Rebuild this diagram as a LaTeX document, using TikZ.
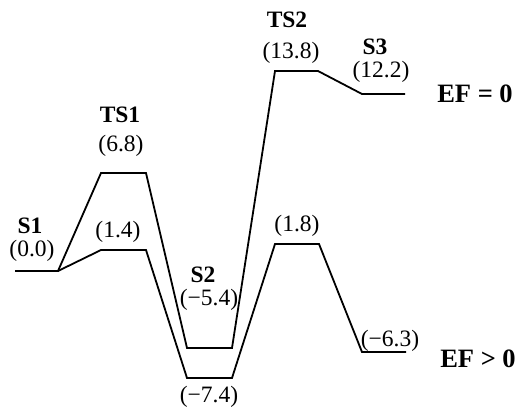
\documentclass[tikz,border=0pt]{standalone}
\usepackage{fontspec}
\setmainfont{Liberation Serif}
\begin{document}
\begin{tikzpicture}[x=1pt,y=-1pt,
  lvl/.style={line width=1.8pt,line join=miter},
  num/.style={inner sep=0pt,font=\fontsize{23.5}{23.5}\selectfont},
  nm/.style={inner sep=0pt,font=\fontsize{23.5}{23.5}\selectfont\bfseries},
  ef/.style={inner sep=0pt,font=\fontsize{26.5}{26.5}\selectfont\bfseries}]
\useasboundingbox (0,0) rectangle (525,407);
% upper profile (EF = 0)
\coordinate (s1l) at (15,271);
\coordinate (s1r) at (58,271);
\coordinate (t1ul) at (101,173);
\coordinate (t1ur) at (146,173);
\coordinate (s2ul) at (187,348);
\coordinate (s2ur) at (232,348);
\coordinate (t2ul) at (275,71);
\coordinate (t2ur) at (318,71);
\coordinate (s3ul) at (362,94);
\coordinate (s3ur) at (405,94);
% lower profile (EF > 0)
\coordinate (t1ll) at (101,250);
\coordinate (t1lr) at (146,250);
\coordinate (s2ll) at (187,378);
\coordinate (s2lr) at (232,378);
\coordinate (t2ll) at (275,244);
\coordinate (t2lr) at (319,244);
\coordinate (s3ll) at (362,352);
\coordinate (s3lr) at (406,352);
\draw[lvl] (s1l) -- (s1r) -- (t1ul) -- (t1ur) -- (s2ul) -- (s2ur) -- (t2ul) -- (t2ur) -- (s3ul) -- (s3ur);
\draw[lvl] (s1r) -- (t1ll) -- (t1lr) -- (s2ll) -- (s2lr) -- (t2ll) -- (t2lr) -- (s3ll) -- (s3lr);
% labels
\node[nm] (ls1) at (30,226) {S1};
\node[num] (vs1) at (32,251) {(0.0)};
\node[nm] (lt1) at (120,115) {TS1};
\node[num] (vt1u) at (121,146) {(6.8)};
\node[num] (vt1l) at (118,232) {(1.4)};
\node[nm] (ls2) at (203,275) {S2};
\node[num] (vs2u) at (209,300) {(−5.4)};
\node[num] (vs2l) at (209,397) {(−7.4)};
\node[nm] (lt2) at (287,20) {TS2};
\node[num] (vt2u) at (291,53) {(13.8)};
\node[num] (vt2l) at (297,226) {(1.8)};
\node[nm] (ls3) at (375,47) {S3};
\node[num] (vs3u) at (381,72) {(12.2)};
\node[num] (vs3l) at (390,341) {(−6.3)};
\node[ef] (ef0) at (475,94) {EF = 0};
\node[ef] (ef1) at (478,359) {EF > 0};
\end{tikzpicture}
\end{document}
